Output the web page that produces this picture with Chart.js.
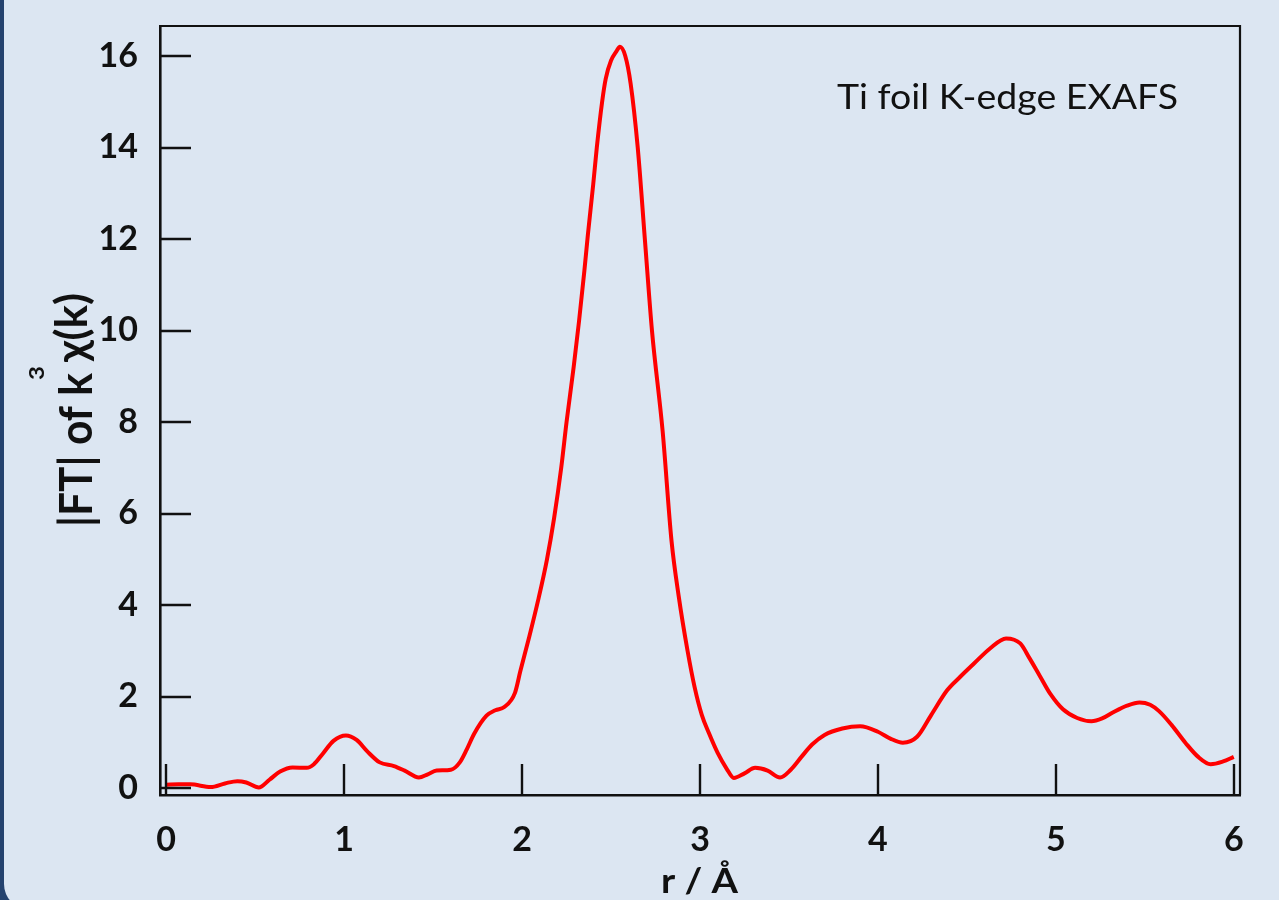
<!DOCTYPE html>
<html><head><meta charset="utf-8">
<script src="https://cdn.jsdelivr.net/npm/chart.js@4.4.1/dist/chart.umd.min.js"></script>
<style>
html,body{margin:0;padding:0;width:1279px;height:900px;overflow:hidden;background:#24426E;}
#panel{position:absolute;left:4px;top:-40px;width:1320px;height:950px;background:#DCE6F2;border-bottom-left-radius:26px;}
#wrap{position:absolute;left:0;top:0;width:1279px;height:900px;}
</style></head><body>
<div id="panel"></div>
<div id="wrap"><canvas id="c" width="1279" height="900"></canvas></div>
<script>
// r / Å
const rValues = [0,0.07,0.135,0.25,0.33,0.40,0.45,0.52,0.58,0.64,0.71,0.79,0.83,0.88,0.94,1.01,1.07,1.13,1.20,1.28,1.34,1.42,1.47,1.52,1.60,1.65,1.69,1.73,1.80,1.85,1.90,1.96,1.99,2.04,2.09,2.14,2.18,2.22,2.25,2.29,2.32,2.35,2.37,2.40,2.42,2.45,2.47,2.50,2.53,2.55,2.58,2.61,2.65,2.69,2.73,2.79,2.84,2.88,2.93,2.97,3.01,3.05,3.10,3.15,3.19,3.25,3.31,3.38,3.45,3.51,3.57,3.63,3.70,3.80,3.90,4.00,4.07,4.14,4.22,4.30,4.39,4.46,4.54,4.63,4.72,4.80,4.85,4.91,4.97,5.04,5.12,5.20,5.26,5.32,5.40,5.47,5.53,5.58,5.65,5.73,5.80,5.87,5.94,6.00];
// |FT| of k^3 chi(k)
const ftValues = [0.07,0.08,0.08,0.02,0.10,0.15,0.12,0.01,0.18,0.36,0.45,0.44,0.52,0.75,1.03,1.15,1.05,0.80,0.56,0.48,0.38,0.23,0.30,0.38,0.40,0.56,0.85,1.18,1.58,1.70,1.77,2.08,2.55,3.30,4.10,5.0,5.9,7.0,8.0,9.2,10.2,11.3,12.1,13.2,14.0,15.0,15.5,15.9,16.1,16.2,16.0,15.4,14.0,12.0,10.0,7.8,5.4,4.2,3.0,2.2,1.6,1.2,0.76,0.42,0.22,0.32,0.44,0.38,0.23,0.40,0.68,0.95,1.16,1.30,1.35,1.23,1.08,0.99,1.12,1.60,2.14,2.42,2.72,3.05,3.27,3.16,2.85,2.45,2.05,1.72,1.53,1.46,1.52,1.65,1.80,1.87,1.82,1.68,1.38,0.98,0.68,0.52,0.58,0.68];
const xTickValues = [0,1,2,3,4,5,6];
const yTickValues = [0,2,4,6,8,10,12,14,16];
const xAxisTitle = 'r / Å';
const yAxisTitleMain = '|FT| of k';
const yAxisTitleSup = '3';
const yAxisTitleEnd = 'χ(k)';
const annotationText = 'Ti foil K-edge EXAFS';

const FONT = 'Lato, "Open Sans", "DejaVu Sans", sans-serif';

function fitText(ctx, text, x, y, width, font) {
  ctx.save();
  ctx.font = font;
  const w = ctx.measureText(text).width;
  ctx.translate(x, y);
  ctx.scale(width / w, 1);
  ctx.fillText(text, 0, 0);
  ctx.restore();
}

const decor = {
  id: 'decor',
  afterDraw(chart) {
    const ctx = chart.ctx;
    const a = chart.chartArea;
    const xs = chart.scales.x, ys = chart.scales.y;
    ctx.save();
    ctx.strokeStyle = '#111';
    // top and right frame
    ctx.lineWidth = 2.2;
    ctx.beginPath();
    ctx.moveTo(a.left, a.top); ctx.lineTo(a.right, a.top); ctx.lineTo(a.right, a.bottom);
    ctx.stroke();
    // inward ticks
    ctx.lineWidth = 2.4;
    ctx.beginPath();
    yTickValues.forEach(v => { const p = Math.round(ys.getPixelForValue(v)); ctx.moveTo(a.left, p); ctx.lineTo(a.left + 31, p); });
    xTickValues.forEach(v => { const p = Math.round(xs.getPixelForValue(v)); ctx.moveTo(p, a.bottom); ctx.lineTo(p, a.bottom - 31); });
    ctx.stroke();
    // annotation
    ctx.fillStyle = '#111';
    ctx.textBaseline = 'alphabetic';
    ctx.textAlign = 'left';
    fitText(ctx, annotationText, 837, 109, 341, '400 35px ' + FONT);
    // x title
    fitText(ctx, xAxisTitle, 661, 893, 77, '700 35px ' + FONT);
    // y title (rotated)
    ctx.save();
    ctx.translate(92, 527);
    ctx.rotate(-Math.PI / 2);
    fitText(ctx, yAxisTitleMain, 0, 0, 154, '700 46px ' + FONT);
    fitText(ctx, yAxisTitleSup, 147, -48, 14, '700 21px ' + FONT);
    fitText(ctx, yAxisTitleEnd, 165, -5, 69, '700 44px ' + FONT);
    ctx.restore();
    ctx.restore();
  }
};

new Chart(document.getElementById('c'), {
  type: 'line',
  data: {
    datasets: [{
      data: rValues.map((r, i) => ({x: r, y: ftValues[i]})),
      borderColor: '#FF0000',
      borderWidth: 4,
      pointRadius: 0,
      fill: false,
      cubicInterpolationMode: 'monotone'
    }]
  },
  options: {
    responsive: false,
    animation: false,
    devicePixelRatio: 1,
    layout: { padding: { left: 0, top: 26, right: 39, bottom: 0 } },
    plugins: { legend: { display: false }, tooltip: { enabled: false }, title: { display: false } },
    scales: {
      x: {
        type: 'linear', min: -0.035, max: 6.035,
        afterBuildTicks: s => { s.ticks = xTickValues.map(v => ({value: v})); },
        afterFit: s => { s.height = 105; s.paddingLeft = 0; s.paddingRight = 0; },
        grid: { display: false, drawTicks: false },
        border: { display: true, color: '#111', width: 2.6 },
        ticks: { color: '#111', font: { family: FONT, size: 34, weight: '700' }, padding: 25, maxRotation: 0, autoSkip: false }
      },
      y: {
        type: 'linear', min: -0.153, max: 16.656,
        afterBuildTicks: s => { s.ticks = yTickValues.map(v => ({value: v})); },
        afterFit: s => { s.width = 160; s.paddingTop = 0; s.paddingBottom = 0; },
        grid: { display: false, drawTicks: false },
        border: { display: true, color: '#111', width: 2.6 },
        ticks: { color: '#111', font: { family: FONT, size: 34, weight: '700' }, padding: 22, autoSkip: false }
      }
    }
  },
  plugins: [decor]
});
</script>
</body></html>
